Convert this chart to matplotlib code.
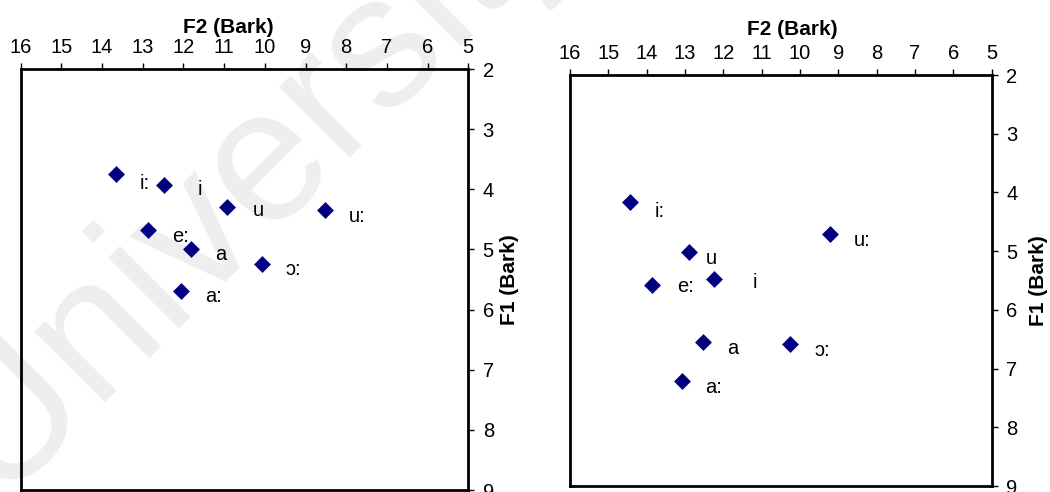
import matplotlib
matplotlib.use("Agg")
import matplotlib.pyplot as plt

plt.rcParams['font.family'] = ['Liberation Sans', 'DejaVu Sans']

# ---- data (F2, F1 in Bark) ----
vowels_left = ['i:', 'i', 'u', 'u:', 'e:', 'a', 'ɔ:', 'a:']
f2_left = [13.67, 12.47, 10.94, 8.52, 12.86, 11.82, 10.08, 12.06]
f1_left = [3.74, 3.93, 4.29, 4.35, 4.68, 4.99, 5.24, 5.69]

vowels_right = ['i:', 'u:', 'u', 'i', 'e:', 'a', 'ɔ:', 'a:']
f2_right = [14.43, 9.22, 12.90, 12.24, 13.85, 12.52, 10.26, 13.09]
f1_right = [4.17, 4.71, 5.02, 5.48, 5.57, 6.55, 6.59, 7.22]

x_ticks = list(range(16, 4, -1))
y_ticks = list(range(2, 10))
x_label = 'F2 (Bark)'
y_label = 'F1 (Bark)'
watermark = 'University'

# ---- styling / layout ----
W, H, DPI = 1050, 492, 100
PT = 72.0 / DPI  # points per pixel
NAVY = '#000080'
FS_TICK = 14.5
FS_VOWEL = 14.5
FS_LABEL = 15

# label offsets in pixels (dx right, dy down) from marker
default_off = (24, 6)
nudges_left = {'i:': (24, 10), 'i': (33, 4), 'u': (26, 4)}
nudges_right = {'i:': (24, 9), 'u': (17, 6), 'i': (38, 3), 'e:': (25, 2)}

fig = plt.figure(figsize=(W / DPI, H / DPI), dpi=DPI)

fig.text(-4 / W, -5 / H, watermark, rotation=45, rotation_mode='anchor',
         ha='left', va='baseline', fontsize=136, color='#eeeeee', zorder=-5)


def panel(rect, f2, f1, vowels, nudges, xlab_pos, ylab_x):
    ax = fig.add_axes(rect)
    ax.set_facecolor('none')
    ax.scatter(f2, f1, marker='D', s=8.6 ** 2, color=NAVY, linewidths=0, zorder=3)
    for v, x, y in zip(vowels, f2, f1):
        dx, dy = nudges.get(v, default_off)
        ax.annotate(v, (x, y), xytext=(dx * PT, -dy * PT), textcoords='offset points',
                    ha='left', va='center', fontsize=FS_VOWEL, color='black', zorder=4)
    ax.set_xlim(16, 5)
    ax.set_ylim(9, 2)
    ax.set_xticks(x_ticks)
    ax.set_yticks(y_ticks)
    ax.xaxis.tick_top()
    ax.xaxis.set_label_position('top')
    ax.yaxis.tick_right()
    ax.yaxis.set_label_position('right')
    ax.tick_params(axis='x', direction='out', length=6 * PT, width=1.0, pad=4,
                   labelsize=FS_TICK, top=True, bottom=False)
    ax.tick_params(axis='y', direction='out', length=6 * PT, width=1.0, pad=6,
                   labelsize=FS_TICK, right=True, left=False)
    for sp in ax.spines.values():
        sp.set_linewidth(2.0)
        sp.set_color('black')
    ax.set_xlabel(x_label, fontsize=FS_LABEL, fontweight='bold')
    ax.set_ylabel(y_label, fontsize=FS_LABEL, fontweight='bold')
    ax.xaxis.set_label_coords(*xlab_pos)
    ax.yaxis.set_label_coords(ylab_x, 0.5)
    return ax


def rect_px(x0, y0, x1, y1):
    return [x0 / W, 1 - y1 / H, (x1 - x0) / W, (y1 - y0) / H]


panel(rect_px(20.7, 69, 468.3, 490), f2_left, f1_left, vowels_left,
      nudges_left, (0.463, 1.085), 1.070)
panel(rect_px(570, 75, 991.7, 486), f2_right, f1_right, vowels_right,
      nudges_right, (0.526, 1.097), 1.088)

fig.savefig('out.png', dpi=DPI)
